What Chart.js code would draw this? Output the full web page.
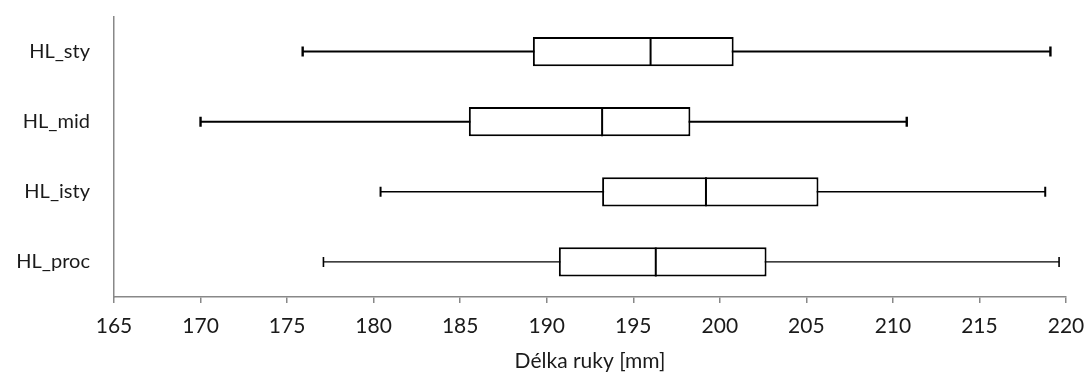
<!DOCTYPE html>
<html>
<head>
<meta charset="utf-8">
<script src="https://cdn.jsdelivr.net/npm/chart.js@4"></script>
<style>
  body { margin: 0; background: #fff; }
  #wrap { width: 1086px; height: 374px; }
</style>
</head>
<body>
<div id="wrap"><canvas id="boxChart" width="1086" height="374"></canvas></div>
<script>
// Kategorie a hodnoty krabicových grafů
const categories = ['HL_sty', 'HL_mid', 'HL_isty', 'HL_proc'];
const minValues    = [175.9, 170.0, 180.4, 177.1];
const q1Values     = [189.2, 185.5, 193.2, 190.7];
const medianValues = [196.0, 193.2, 199.2, 196.3];
const q3Values     = [200.8, 198.3, 205.7, 202.7];
const maxValues    = [219.1, 210.8, 218.8, 219.6];
const xTicks = [165, 170, 175, 180, 185, 190, 195, 200, 205, 210, 215, 220];
const axisTitle = 'Délka ruky [mm]';

const whiskerWidths = [2, 2, 1.6, 1.2];
const fontFamily = 'Lato, "Liberation Sans", sans-serif';
const axisGrey = '#888888';

// Vousy: čára od minima k maximu s koncovými značkami
const whiskerSets = categories.map((cat, i) => ({
    type: 'line',
    indexAxis: 'y',
    data: [{ x: minValues[i], y: cat }, { x: maxValues[i], y: cat }],
    borderColor: '#000',
    borderWidth: whiskerWidths[i],
    pointStyle: 'line',
    rotation: 90,
    pointRadius: 5,
    pointHoverRadius: 5,
    pointBorderWidth: whiskerWidths[i] + 0.4,
    pointBorderColor: '#000',
    fill: false,
    order: 3
}));

// Krabice: plovoucí sloupec Q1–Q3
const boxSet = {
    type: 'bar',
    data: categories.map((c, i) => [q1Values[i], q3Values[i]]),
    backgroundColor: '#fff',
    borderColor: '#000',
    borderWidth: 2,
    borderSkipped: false,
    barPercentage: 0.52,
    categoryPercentage: 0.8,
    order: 2
};

// Medián: svislá značka přes výšku krabice
const medianSet = {
    type: 'line',
    indexAxis: 'y',
    showLine: false,
    data: categories.map((c, i) => ({ x: medianValues[i], y: c })),
    pointStyle: 'line',
    rotation: 90,
    pointRadius: 14.5,
    pointHoverRadius: 14.5,
    pointBorderWidth: 2,
    pointBorderColor: '#000',
    order: 1
};

const noPad = scale => {
    scale.paddingLeft = 0;
    scale.paddingRight = 0;
    scale.paddingTop = 0;
    scale.paddingBottom = 0;
};

const ctx = document.getElementById('boxChart').getContext('2d');
new Chart(ctx, {
    type: 'bar',
    data: {
        labels: categories,
        datasets: [medianSet, boxSet].concat(whiskerSets)
    },
    options: {
        indexAxis: 'y',
        responsive: false,
        animation: false,
        layout: { padding: { top: 15, right: 20, left: 0, bottom: 0 } },
        plugins: { legend: { display: false }, tooltip: { enabled: false } },
        scales: {
            x: {
                type: 'linear',
                min: 165,
                max: 220,
                afterBuildTicks: scale => { scale.ticks = xTicks.map(v => ({ value: v })); },
                afterFit: scale => { scale.height = 77; noPad(scale); },
                ticks: {
                    color: '#1a1a1a',
                    padding: 11,
                    font: { family: fontFamily, size: 21 },
                    maxRotation: 0
                },
                grid: {
                    drawOnChartArea: false,
                    drawTicks: true,
                    tickLength: 6,
                    color: axisGrey,
                    lineWidth: 1.5
                },
                border: { display: true, color: axisGrey, width: 1.5 },
                title: {
                    display: true,
                    text: axisTitle,
                    color: '#1a1a1a',
                    font: { family: fontFamily, size: 21 },
                    padding: { top: 0, bottom: 0 }
                }
            },
            y: {
                afterFit: scale => { scale.width = 114; noPad(scale); },
                ticks: {
                    color: '#1a1a1a',
                    padding: 24,
                    font: { family: fontFamily, size: 20 }
                },
                grid: { drawOnChartArea: false, drawTicks: false },
                border: { display: true, color: axisGrey, width: 1.5 }
            }
        }
    }
});
</script>
</body>
</html>
